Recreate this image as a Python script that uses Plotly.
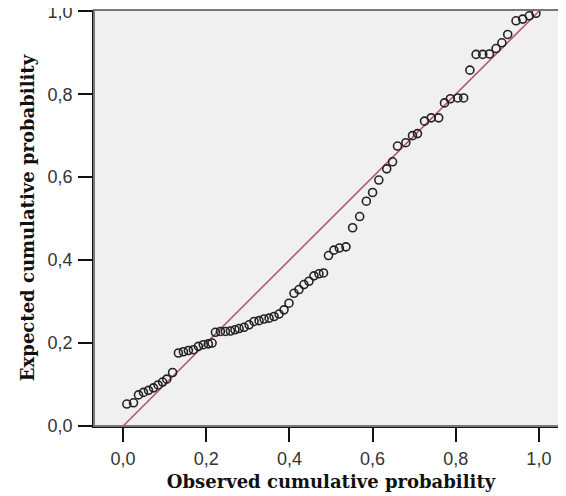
import plotly.graph_objects as go

observed = [0.009, 0.025, 0.037, 0.049, 0.061, 0.073, 0.084, 0.095, 0.105, 0.119,
            0.133, 0.145, 0.157, 0.169, 0.181, 0.193, 0.205, 0.214,
            0.222, 0.234, 0.246, 0.258, 0.269, 0.279, 0.291, 0.303, 0.315, 0.327,
            0.339, 0.351, 0.363, 0.375, 0.387, 0.399, 0.411, 0.423, 0.435, 0.447,
            0.459, 0.471, 0.482, 0.494, 0.507, 0.520, 0.536, 0.552, 0.569, 0.585,
            0.600, 0.615, 0.634, 0.648, 0.660, 0.680, 0.696, 0.708, 0.725, 0.741,
            0.759, 0.773, 0.787, 0.805, 0.819, 0.834, 0.849, 0.865, 0.881, 0.897,
            0.911, 0.925, 0.945, 0.961, 0.977, 0.993]
expected = [0.053, 0.056, 0.075, 0.081, 0.086, 0.092, 0.099, 0.106, 0.113, 0.129,
            0.176, 0.179, 0.182, 0.184, 0.192, 0.196, 0.198, 0.200,
            0.226, 0.228, 0.228, 0.229, 0.232, 0.235, 0.238, 0.244, 0.252, 0.254,
            0.258, 0.260, 0.264, 0.270, 0.280, 0.296, 0.320, 0.329, 0.341, 0.349,
            0.362, 0.367, 0.369, 0.411, 0.424, 0.429, 0.432, 0.478, 0.505, 0.542,
            0.563, 0.593, 0.620, 0.637, 0.675, 0.683, 0.700, 0.705, 0.735, 0.743,
            0.743, 0.779, 0.789, 0.791, 0.791, 0.858, 0.896, 0.896, 0.897, 0.910,
            0.924, 0.944, 0.977, 0.981, 0.989, 0.995]
ref_line = [0.0, 1.0]
tick_vals = [0.0, 0.2, 0.4, 0.6, 0.8, 1.0]
tick_text = ["0,0", "0,2", "0,4", "0,6", "0,8", "1,0"]

fig = go.Figure()
fig.add_trace(go.Scatter(x=ref_line, y=ref_line, mode="lines",
                         line=dict(color="#B4557A", width=1.6),
                         hoverinfo="skip", showlegend=False))
fig.add_trace(go.Scatter(x=observed, y=expected, mode="markers",
                         marker=dict(symbol="circle-open", size=8, color="#222222",
                                     line=dict(color="#222222", width=1.6)),
                         showlegend=False))

title_font = dict(family="DejaVu Serif", size=18, color="#111111")
tick_font = dict(family="Liberation Sans", size=18, color="#333333")

fig.update_layout(
    width=566, height=496,
    margin=dict(l=86, r=6, t=2, b=78),
    paper_bgcolor="white",
    plot_bgcolor="#F0F0F0",
    showlegend=False,
    xaxis=dict(range=[-0.07, 1.07], tickvals=tick_vals, ticktext=tick_text,
               showgrid=False, zeroline=False, showline=True, linecolor="#111111",
               linewidth=1.5, ticks="outside", ticklen=14, tickwidth=1.5,
               tickcolor="#111111", tickfont=tick_font, ticklabelstandoff=2,
               automargin=False, ticklabeloverflow="allow",
               title=dict(text="<b>Observed cumulative probability</b>",
                          font=title_font, standoff=7)),
    yaxis=dict(range=[0, 1.003], tickvals=tick_vals, ticktext=tick_text,
               showgrid=False, zeroline=False, showline=True, linecolor="#111111",
               linewidth=1.5, ticks="outside", ticklen=14, tickwidth=1.5,
               tickcolor="#111111", tickfont=tick_font, ticklabelstandoff=2,
               automargin=False, ticklabeloverflow="allow",
               title=dict(text="<b>Expected cumulative probability</b>",
                          font=title_font, standoff=8)),
    shapes=[dict(type="rect", xref="paper", yref="paper", x0=0, y0=0, x1=1, y1=1,
                 line=dict(color="#777777", width=2), layer="above")],
)

fig.write_html("out.html")
